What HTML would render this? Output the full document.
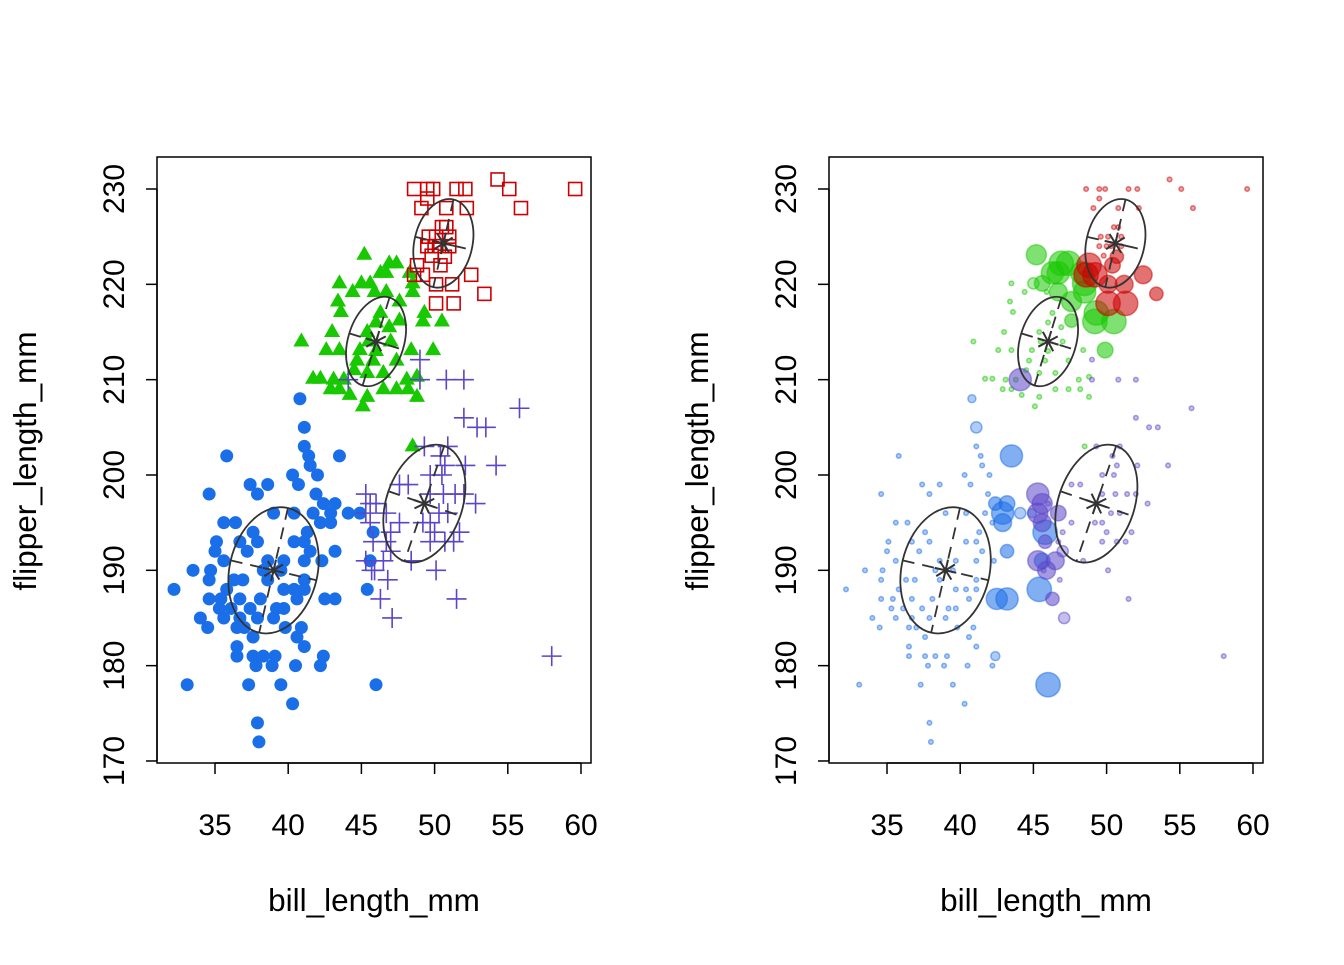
<!DOCTYPE html>
<html><head><meta charset="utf-8"><style>
html,body{margin:0;padding:0;background:#fff;}
svg text{font-family:"Liberation Sans",Arial,sans-serif;fill:#000;}
</style></head><body>
<svg id="chart" width="1344" height="960" viewBox="0 0 1344 960" xmlns="http://www.w3.org/2000/svg"></svg>
<script>
const xTicks=[35,40,45,50,55,60];
const yTicks=[170,180,190,200,210,220,230];
const xTitle="bill_length_mm", yTitle="flipper_length_mm";
const groupNames=["adelie","gentoo-female","gentoo-male","chinstrap"];
const groupColors=["#1a6ee8","#18c800","#cc0000","#5b45c8"];
// points: [bill_length, flipper_length, uncertainty]
const bluePts=[[40.8,208,0.15],[41.1,205,0.3],[35.8,202],[43.5,202,0.8],[41.1,203],[41.4,202],[41.5,201],[42.0,200],[40.3,200],[40.7,199],[37.4,199],[38.6,199],[37.9,198],[34.6,198],[41.9,198],[42.4,197,0.4],[43.2,197,0.5],[42.9,196,0.8],[44.1,196,0.3],[41.7,196],[35.6,195],[36.4,195],[39.0,196],[40.4,196],[42.2,195],[42.9,195,0.6],[41.3,194],[35.1,193],[36.7,193],[37.6,194],[37.9,193],[40.4,193],[41.1,193],[41.5,192],[43.2,192,0.4],[42.3,191],[35.0,192],[37.2,192],[38.6,191],[39.7,191],[41.1,191],[35.6,191],[33.5,190],[34.7,190],[36.9,189],[34.6,189],[36.3,189],[41.1,189],[38.3,190],[39.5,190],[32.2,188],[35.8,188],[38.6,189],[39.7,188],[40.4,188],[41.1,188],[34.6,187],[35.4,187],[36.7,187],[38.1,187],[40.6,187],[42.5,187,0.75],[43.2,187,0.8],[35.3,186],[36.1,186],[37.4,186],[39.2,186],[39.7,186],[35.6,185],[34.0,185],[36.7,185],[37.9,185],[39.0,185],[34.5,184],[36.5,184],[37.0,184],[39.8,184],[40.9,184],[40.6,183],[37.6,183],[36.5,182],[41.1,182],[36.5,181],[37.6,181],[38.3,181],[39.1,181],[42.4,181,0.2],[37.8,180],[38.9,180],[40.5,180],[42.2,180],[33.1,178],[37.3,178],[39.5,178],[46.0,178,0.9],[40.3,176],[37.9,174],[38.0,172],[45.8,194,0.9],[45.6,191,0.5],[45.4,188,0.9],[44.9,196,0.2]];
const greenPts=[[45.2,223.1,0.7],[43.5,220.1],[45.0,220.1,0.3],[45.6,220.1,0.5],[46.9,222.2,0.9],[47.4,222.2,0.9],[46.3,221.2,0.8],[46.7,221.2,0.8],[48.3,221.2,0.8],[48.5,220.1,0.9],[44.4,219.2],[45.9,219.2],[46.7,219.2,0.6],[48.5,219.2,0.8],[43.4,218.2],[47.6,218.2,0.7],[43.6,217.1],[49.3,217.0,0.9],[46.3,217.0],[50.5,216.1,0.9],[49.2,216.1,0.9],[43.0,215.0],[45.4,215.0],[46.9,215.5],[47.6,216.2,0.4],[40.9,214.0],[42.6,213.1],[43.5,213.1],[44.9,213.1],[48.4,213.1],[49.9,213.1,0.5],[45.8,212.0],[47.4,212.0],[44.7,212.0],[41.7,210.1],[42.2,210.1],[43.1,210.0],[43.8,210.0],[45.4,210.7],[46.5,210.7],[48.1,210.0],[48.8,210.3],[42.9,209],[43.5,209],[44.2,208.4],[45.4,208.2],[46.5,209],[47.4,209],[48.2,209],[48.8,208.2],[45.1,207.2],[48.5,203],[45.5,214],[46.0,216],[44.5,211],[47.0,214],[46.0,213]];
const redPts=[[48.6,230],[49.5,230],[49.9,230],[51.5,230],[52.1,230],[54.3,231],[55.1,230],[59.6,230],[49.1,228],[50.8,228],[52.2,228],[55.9,228],[49.5,229],[50.8,226],[49.6,225],[50.1,225],[51.0,225],[49.5,224],[50.3,224],[50.7,222.9,0.4],[48.8,222,0.9],[50.4,222,0.5],[49.2,221,0.9],[52.5,221,0.6],[50.1,220,0.6],[51.2,220,0.6],[53.4,219,0.4],[50.1,218,0.9],[51.3,218,0.9],[50.0,224],[51.0,224],[49.8,223],[50.5,226],[48.6,221,0.9]];
const purplePts=[[49.0,212.1],[49.0,210.0],[50.8,210.0],[52.0,210.0],[44.1,210.0,0.8],[55.8,207],[52.0,206],[52.9,205],[53.5,205],[49.3,203],[50.9,203],[50.4,202],[52.1,201],[54.2,201],[50.7,201],[47.6,199],[48.2,199],[49.7,200],[50.5,200],[45.3,198,0.8],[49.7,198],[50.6,198],[51.4,198],[52.0,198],[52.8,197],[45.6,197,0.7],[46.7,196,0.5],[45.3,196,0.7],[50.3,196],[50.9,196],[45.6,195,0.6],[47.6,195],[49.2,195],[49.7,195],[51.7,194],[45.8,193,0.4],[46.7,193],[49.7,193],[50.7,193],[51.3,193],[47.0,192,0.3],[45.3,191,0.7],[46.5,191,0.6],[48.4,191],[45.9,190,0.6],[46.8,189],[50.1,190],[46.3,187,0.4],[51.5,187],[47.1,185,0.3],[58.0,181],[46.0,197],[47.0,194],[50.0,194],[45.7,190]];
const groupPts=[bluePts,greenPts,redPts,purplePts];
// ellipse centres in data units
const centerX=[39.0,46.0,50.6,49.3];
const centerY=[190.0,214.0,224.3,197.0];

const svg=document.getElementById('chart');
const NS='http://www.w3.org/2000/svg';
function mk(tag,attrs,parent){const e=document.createElementNS(NS,tag);for(const k in attrs)e.setAttribute(k,attrs[k]);(parent||svg).appendChild(e);return e;}
const ellShape=[[64,44,13],[46,28,17],[45,29,13],[61,38,19]];

function panel(off,idx){
  const xs=v=>215+off+(v-35)*14.64;
  const ys=v=>189+(230-v)*9.533;
  const g=mk('g',{});
  
  
  const box=mk('rect',{x:157+off,y:157,width:434,height:606,fill:'none',stroke:'#000','stroke-width':1.5},g);
  
  
  const xa=mk('g',{},g);
  
  
  mk('line',{x1:xs(xTicks[0]),x2:xs(xTicks[xTicks.length-1]),y1:763,y2:763,stroke:'#000','stroke-width':1.5},xa);
  xTicks.forEach(t=>{mk('line',{x1:xs(t),x2:xs(t),y1:763,y2:774,stroke:'#000','stroke-width':1.5},xa);
    const tx=mk('text',{x:xs(t),y:835,'font-size':30,'text-anchor':'middle'},xa);tx.textContent=t;
    
    });
  const ya=mk('g',{},g);
  
  
  mk('line',{x1:157+off,x2:157+off,y1:ys(yTicks[0]),y2:ys(yTicks[yTicks.length-1]),stroke:'#000','stroke-width':1.5},ya);
  yTicks.forEach(t=>{mk('line',{x1:146+off,x2:157+off,y1:ys(t),y2:ys(t),stroke:'#000','stroke-width':1.5},ya);
    const tx=mk('text',{x:0,y:0,'font-size':30,'text-anchor':'middle',transform:`translate(${124+off},${ys(t)}) rotate(-90)`},ya);tx.textContent=t;
    
    });
  const xt=mk('text',{x:374+off,y:911,'font-size':31.5,'text-anchor':'middle'},g);xt.textContent=xTitle;
  
  
  const yt=mk('text',{x:0,y:0,'font-size':31.5,'text-anchor':'middle',transform:`translate(${36+off},461) rotate(-90)`},g);yt.textContent=yTitle;
  
  

  groupPts.forEach((pts,gi)=>{
    const c=groupColors[gi];
    const sg=mk('g',{},g);
    
    
    pts.forEach(p=>{
      const x=xs(p[0]),y=ys(p[1]);let e;
      if(idx===1){
        const u=p[2]||0;const r=2.3+11*u;
        e=mk('circle',{cx:x,cy:y,r:r,fill:c,'fill-opacity':u>0.3?0.55:0.35,stroke:c,'stroke-opacity':0.5,'stroke-width':1.5},sg);
      } else if(gi===0){
        e=mk('circle',{cx:x,cy:y,r:6.5,fill:c},sg);
      } else if(gi===1){
        e=mk('polygon',{points:`${x},${y-9} ${x-8},${y+5} ${x+8},${y+5}`,fill:c},sg);
      } else if(gi===2){
        e=mk('rect',{x:x-6.5,y:y-6.5,width:13,height:13,fill:'none',stroke:c,'stroke-width':1.6},sg);
      } else {
        e=mk('path',{d:`M${x-10},${y}H${x+10}M${x},${y-10}V${y+10}`,stroke:c,'stroke-width':1.6,fill:'none'},sg);
      }
      
      
    });
  });
  centerX.forEach((cxv,gi)=>{
    const cx=xs(cxv),cy=ys(centerY[gi]);const [a,b,ang]=ellShape[gi];
    const eg=mk('g',{transform:`translate(${cx},${cy}) rotate(${ang})`},g);
    
    
    mk('ellipse',{cx:0,cy:0,rx:b,ry:a,fill:'none',stroke:'#333','stroke-width':1.8},eg);
    mk('line',{x1:0,y1:-a,x2:0,y2:a,stroke:'#333','stroke-width':1.8,'stroke-dasharray':'12,8'},eg);
    mk('line',{x1:-b,y1:0,x2:b,y2:0,stroke:'#333','stroke-width':1.8,'stroke-dasharray':'12,8'},eg);
    const st=mk('g',{},eg);
    
    
    for(let k=0;k<4;k++){const t=k*Math.PI/4;mk('line',{x1:-11*Math.cos(t),y1:-11*Math.sin(t),x2:11*Math.cos(t),y2:11*Math.sin(t),stroke:'#333','stroke-width':2},st);}
  });
}
panel(0,0);
panel(672,1);
</script>
</body></html>
